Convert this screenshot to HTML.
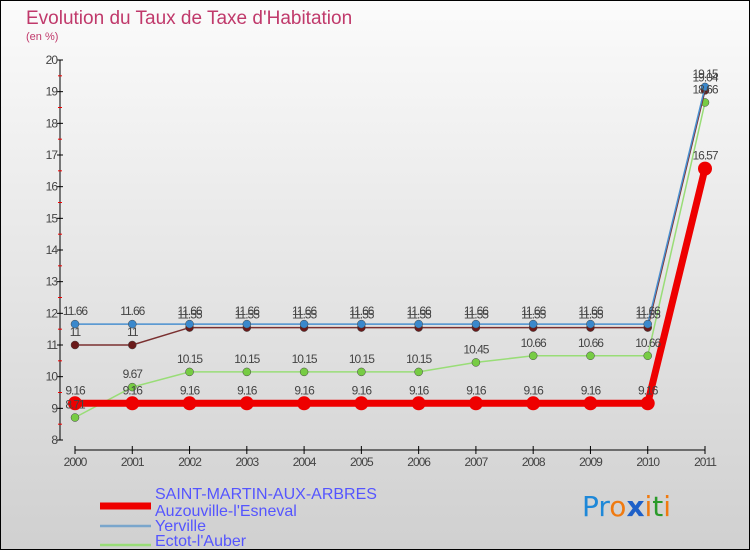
<!DOCTYPE html>
<html><head><meta charset="utf-8"><style>
body{margin:0;width:750px;height:550px;overflow:hidden}
svg{display:block;font-family:"Liberation Sans",sans-serif}
</style></head><body>
<svg width="750" height="550" viewBox="0 0 750 550">
<defs><linearGradient id="bg" x1="0" y1="0" x2="0" y2="1"><stop offset="0" stop-color="#fbfbfb"/><stop offset="1" stop-color="#d0d0d0"/></linearGradient></defs>
<rect x="0.5" y="0.5" width="749" height="549" fill="url(#bg)" stroke="#000"/>
<text x="26" y="24" font-size="19" fill="#c0396b">Evolution du Taux de Taxe d'Habitation</text>
<text x="26" y="40" font-size="11" fill="#c0396b">(en %)</text>
<g id="axes"></g><g id="series"></g><g id="labels"></g>
<g>
<line x1="100" y1="506" x2="151" y2="506" stroke="#e00" stroke-width="7"/>
<text x="155" y="499" font-size="16" fill="#5555ff">SAINT-MARTIN-AUX-ARBRES</text>
<line x1="100" y1="526" x2="151" y2="526" stroke="#7aa6cc" stroke-width="2.5"/>
<text x="155" y="516" font-size="16" fill="#5555ff">Auzouville-l'Esneval</text>
<line x1="100" y1="545" x2="151" y2="545" stroke="#99dd77" stroke-width="2.5"/>
<text x="155" y="531" font-size="16" fill="#5555ff">Yerville</text>
<line x1="100" y1="563" x2="151" y2="563" stroke="#a06a6a" stroke-width="2.5"/>
<text x="155" y="546" font-size="16" fill="#5555ff">Ectot-l'Auber</text>
</g>
<text x="582" y="516" font-size="28" font-family="'DejaVu Sans',sans-serif"><tspan fill="#1e88d8">Pr</tspan><tspan fill="#f07a10">o</tspan><tspan fill="#1e60c8" font-weight="bold">x</tspan><tspan fill="#f07a10">i</tspan><tspan fill="#2a9a2a">t</tspan><tspan fill="#f07a10">i</tspan></text>
</svg>
<script>
const years=[2000,2001,2002,2003,2004,2005,2006,2007,2008,2009,2010,2011];
const saintMartin=[9.16,9.16,9.16,9.16,9.16,9.16,9.16,9.16,9.16,9.16,9.16,16.57];
const auzouville=[11.66,11.66,11.66,11.66,11.66,11.66,11.66,11.66,11.66,11.66,11.66,19.15];
const yerville=[8.71,9.67,10.15,10.15,10.15,10.15,10.15,10.45,10.66,10.66,10.66,18.66];
const ectot=[11,11,11.55,11.55,11.55,11.55,11.55,11.55,11.55,11.55,11.55,19.04];
const yTicks=[8,9,10,11,12,13,14,15,16,17,18,19,20];
const NS="http://www.w3.org/2000/svg";
const X=i=>75+i*(630/11);
const Y=v=>440-(v-8)*(380/12);
function mk(t,a,p){const e=document.createElementNS(NS,t);for(const k in a)e.setAttribute(k,a[k]);p.appendChild(e);return e;}
const ax=document.getElementById('axes');
let e=mk('line',{x1:60,y1:60,x2:60,y2:440,stroke:'#000'},ax);


e=mk('line',{x1:75,y1:450,x2:705,y2:450,stroke:'#000'},ax);


yTicks.forEach((v,i)=>{
 mk('line',{x1:57,x2:63,y1:Y(v),y2:Y(v),stroke:'#000'},ax);
 if(i<yTicks.length-1)mk('line',{x1:58,x2:62,y1:Y(v+0.5),y2:Y(v+0.5),stroke:'#e00'},ax);
 const t=mk('text',{x:57,y:Y(v)+4,'font-size':12,'text-anchor':'end',fill:'#444','letter-spacing':'-1'},ax);t.textContent=v;
 
 
});
years.forEach((y,i)=>{
 mk('line',{x1:X(i),x2:X(i),y1:446,y2:454,stroke:'#000'},ax);
 const t=mk('text',{x:X(i),y:466,'font-size':12,'text-anchor':'middle',fill:'#444','letter-spacing':'-1'},ax);t.textContent=y;
 
 
});
const sg=document.getElementById('series'),lg=document.getElementById('labels');
function draw(d,color,w,r,name,pfill){
 const pl=mk('polyline',{points:d.map((v,i)=>X(i)+','+Y(v)).join(' '),fill:'none',stroke:color,'stroke-width':w},sg);
 
 
 d.forEach((v,i)=>{
  const c=mk('circle',{cx:X(i),cy:Y(v),r:r,fill:pfill,stroke:'#444','stroke-width':r>5?0:0.5},sg);
  
  
  const t=mk('text',{x:X(i),y:Y(v)-9,'font-size':12,'text-anchor':'middle',fill:'#444','letter-spacing':'-1'},lg);t.textContent=v;
  
  
 });
}
draw(yerville,'#99dd77',1.5,4,'yerville','#77cc44');
draw(ectot,'#7a3030',1.5,4,'ectot','#6a1a1a');
draw(auzouville,'#4a90d0',1.5,4,'auzouville','#3a88cc');
draw(saintMartin,'#ee0000',7,7,'saint-martin','#ee0000');
</script>
</body></html>
